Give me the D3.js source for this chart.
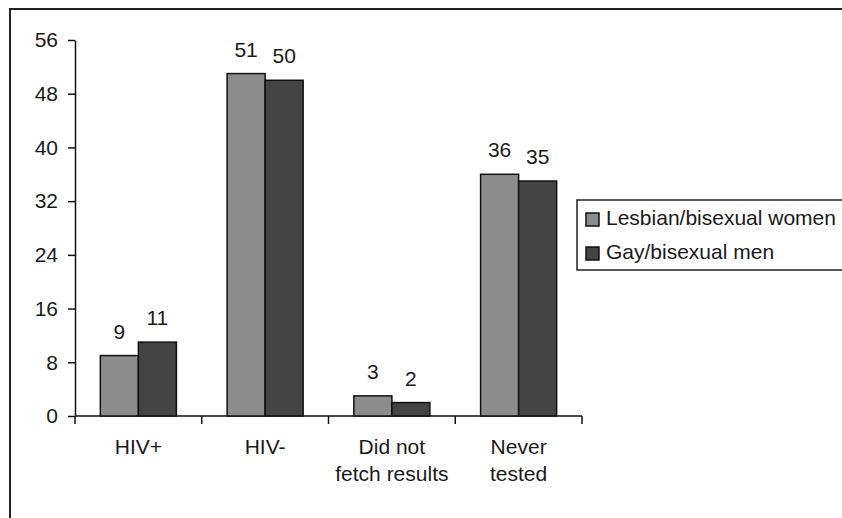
<!DOCTYPE html>
<meta charset="utf-8">
<style>
body { margin: 0; background: #fff; }
svg { font-family: "Liberation Sans", Arial, sans-serif; font-size: 21px; }
.axis path, .axis line { stroke: #111; stroke-width: 1.5; }
.axis text { fill: #1a1a1a; font-size: 21px; font-family: "Liberation Sans", Arial, sans-serif; }
.val { fill: #1a1a1a; text-anchor: middle; }
.bar { stroke: #111; stroke-width: 1.5; }
</style>
<body>
<script src="https://cdn.jsdelivr.net/npm/d3@7"></script>
<script>
var categories = [["HIV+"], ["HIV-"], ["Did not", "fetch results"], ["Never", "tested"]];
var series = ["Lesbian/bisexual women", "Gay/bisexual men"];
var women = [9, 51, 3, 36];
var men = [11, 50, 2, 35];
var yTicks = [0, 8, 16, 24, 32, 40, 48, 56];
var colors = ["#8c8c8c", "#444444"];

var w = 842, h = 518;
var plotLeft = 75, plotRight = 582, plotTop = 40, plotBottom = 416;

var svg = d3.select("body").append("svg")
    .attr("width", w)
    .attr("height", h);

/* outer frame */
svg.append("rect")
    .attr("x", 10).attr("y", 9)
    .attr("width", w).attr("height", h)
    .attr("fill", "none")
    .attr("stroke", "#222")
    .attr("stroke-width", 2);

var keys = categories.map(function(c) { return c.join(" "); });

var x0 = d3.scaleBand().domain(keys).range([plotLeft, plotRight]);
var pad = x0.bandwidth() * 0.2;
var x1 = d3.scaleBand().domain(series).range([pad, x0.bandwidth() - pad]);
var y = d3.scaleLinear().domain([0, 56]).range([plotBottom, plotTop]);

/* y axis */
svg.append("g")
    .attr("class", "axis")
    .attr("transform", "translate(" + plotLeft + ",0)")
    .call(d3.axisLeft(y).tickValues(yTicks).tickSize(7).tickPadding(10).tickSizeOuter(0));

/* x axis with ticks between categories */
var xa = svg.append("g").attr("class", "axis");
xa.append("line")
    .attr("x1", plotLeft).attr("x2", plotRight)
    .attr("y1", y(0)).attr("y2", y(0));
var edges = keys.map(function(k) { return x0(k); }).concat([plotRight]);
xa.selectAll("line.tk")
    .data(edges)
  .enter().append("line")
    .attr("class", "tk")
    .attr("x1", function(d) { return d; }).attr("x2", function(d) { return d; })
    .attr("y1", y(0)).attr("y2", y(0) + 8);

xa.selectAll("text.cat")
    .data(categories)
  .enter().append("text")
    .attr("class", "cat")
    .attr("text-anchor", "middle")
    .attr("x", function(d, i) { return x0(keys[i]) + x0.bandwidth() / 2; })
    .attr("y", 454)
    .selectAll("tspan")
    .data(function(d) { return d; })
  .enter().append("tspan")
    .attr("x", function() { return d3.select(this.parentNode).attr("x"); })
    .attr("dy", function(d, i) { return i ? 27 : 0; })
    .text(function(d) { return d; });

/* bars */
var rows = keys.map(function(k, i) {
  return { key: k, vals: [{ s: series[0], v: women[i], c: colors[0] }, { s: series[1], v: men[i], c: colors[1] }] };
});

var g = svg.selectAll("g.grp")
    .data(rows)
  .enter().append("g")
    .attr("class", "grp")
    .attr("transform", function(d) { return "translate(" + x0(d.key) + ",0)"; });

g.selectAll("rect")
    .data(function(d) { return d.vals; })
  .enter().append("rect")
    .attr("class", "bar")
    .attr("x", function(d) { return x1(d.s); })
    .attr("width", x1.bandwidth())
    .attr("y", function(d) { return y(d.v); })
    .attr("height", function(d) { return y(0) - y(d.v); })
    .attr("fill", function(d) { return d.c; });

g.selectAll("text.val")
    .data(function(d) { return d.vals; })
  .enter().append("text")
    .attr("class", "val")
    .attr("x", function(d) { return x1(d.s) + x1.bandwidth() / 2; })
    .attr("y", function(d) { return y(d.v) - 17; })
    .text(function(d) { return d.v; });

/* legend */
var lg = svg.append("g").attr("transform", "translate(577,200)");
lg.append("rect")
    .attr("width", 280).attr("height", 70)
    .attr("fill", "#fff")
    .attr("stroke", "#222")
    .attr("stroke-width", 1.5);
var li = lg.selectAll("g.li")
    .data(series)
  .enter().append("g")
    .attr("class", "li")
    .attr("transform", function(d, i) { return "translate(9," + (13 + i * 34) + ")"; });
li.append("rect")
    .attr("width", 13).attr("height", 13)
    .attr("fill", function(d, i) { return colors[i]; })
    .attr("stroke", "#111").attr("stroke-width", 1.5);
li.append("text")
    .attr("x", 20).attr("y", 12)
    .attr("fill", "#1a1a1a")
    .text(function(d) { return d; });
</script>
